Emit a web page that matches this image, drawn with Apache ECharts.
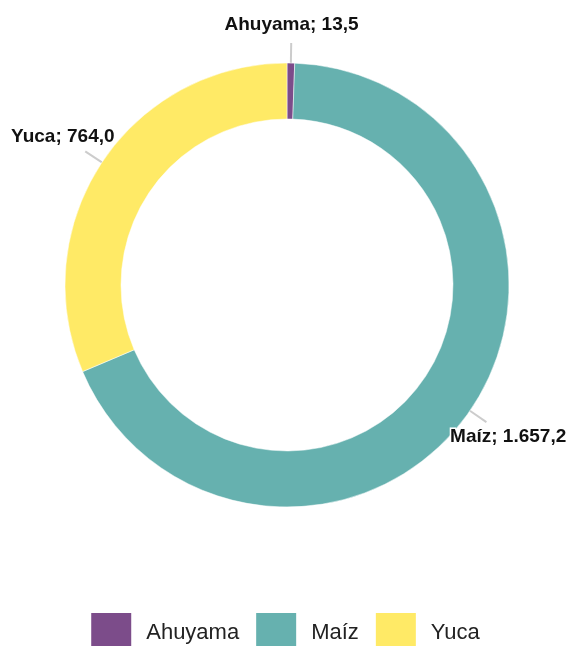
<!DOCTYPE html>
<html lang="es">
<head>
    <meta charset="UTF-8">
    <title>Cultivos</title>
    <style>
        * {
            padding: 0;
            margin: 0;
        }

        #chart {
            width: 569px;
            height: 646px;
            background: #fff;
        }
    </style>
    <script src="https://cdn.jsdelivr.net/npm/echarts@6/dist/echarts.min.js"></script>
</head>
<body>
<div id="chart"></div>
<script>
    // data
    const cultivos = ['Ahuyama', 'Maíz', 'Yuca'];
    const valores = [13.5, 1657.2, 764.0];
    const colores = ['#7c4c8a', '#66b1af', '#ffea66'];

    // 1657.2 -> "1.657,2"
    const fmt = v => {
        let [ent, dec] = v.toFixed(1).split('.');
        ent = ent.replace(/\B(?=(\d{3})+(?!\d))/g, '.');
        return ent + ',' + dec;
    };

    window.onload = () => {
        let chart = echarts.init(document.getElementById('chart'));
        let data = cultivos.map((name, i) => ({
            name: name,
            value: valores[i],
            itemStyle: {color: colores[i]}
        }));
        chart.setOption({
            animation: false,
            legend: {
                left: 'center',
                top: 611,
                padding: 0,
                icon: 'rect',
                itemWidth: 42,
                itemHeight: 42,
                itemGap: 15,
                textStyle: {
                    fontFamily: 'Liberation Sans',
                    fontSize: 22,
                    color: '#222',
                    padding: [0, 0, 0, 9]
                },
                data: cultivos
            },
            series: [{
                type: 'pie',
                center: [287, 285],
                radius: [166, 222],
                startAngle: 90,
                avoidLabelOverlap: false,
                itemStyle: {
                    borderColor: '#fff',
                    borderWidth: 0.5
                },
                label: {
                    show: true,
                    position: 'outside',
                    fontFamily: 'Liberation Sans',
                    fontWeight: 'bold',
                    fontSize: 19,
                    color: '#111',
                    textBorderColor: '#fff',
                    textBorderWidth: 3,
                    formatter: p => p.name + '; ' + fmt(p.value)
                },
                labelLine: {
                    show: true,
                    length: 20,
                    length2: 0,
                    lineStyle: {color: '#ccc', width: 2}
                },
                // put the label box just past the line end, along the radial direction
                labelLayout: params => {
                    let pts = params.labelLinePoints;
                    if (!pts) return {};
                    let p1 = pts[0], p2 = pts[1];
                    let dx = p2[0] - p1[0], dy = p2[1] - p1[1];
                    let len = Math.sqrt(dx * dx + dy * dy) || 1;
                    dx /= len;
                    dy /= len;
                    let w = params.labelRect.width, h = params.labelRect.height;
                    let t = Math.min(
                        Math.abs(dx) > 1e-6 ? w / 2 / Math.abs(dx) : Infinity,
                        Math.abs(dy) > 1e-6 ? h / 2 / Math.abs(dy) : Infinity
                    ) + 7;
                    return {
                        x: p2[0] + dx * t,
                        y: p2[1] + dy * t,
                        align: 'center',
                        verticalAlign: 'middle',
                        labelLinePoints: [p1, p2, p2]
                    };
                },
                data: data
            }]
        });
    };
</script>
</body>
</html>
